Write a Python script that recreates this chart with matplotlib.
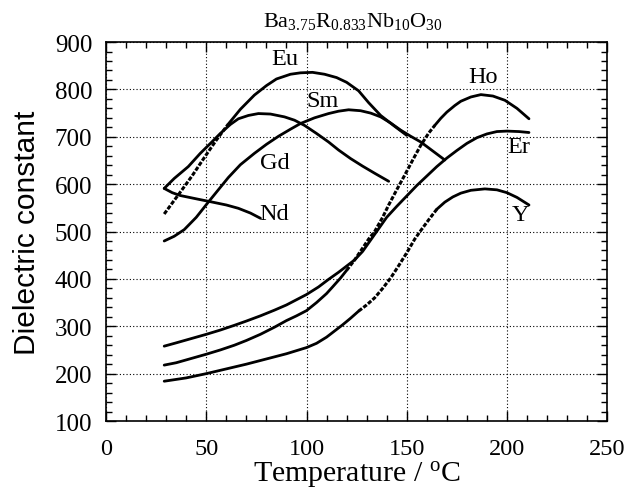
import matplotlib
matplotlib.use("Agg")
import matplotlib.pyplot as plt
from matplotlib.ticker import MultipleLocator

# ---- data ----
nd_t = [29, 33, 37, 45, 52, 60, 66, 72, 77]
nd_v = [591, 582, 576, 569, 563, 556, 549, 539, 528]

gd_t = [29, 34, 41, 47, 53, 57, 62, 66, 71, 76, 82, 89, 94, 99, 105, 111, 116, 122, 128, 134, 141]
gd_v = [591, 612, 637, 665, 690, 707, 726, 738, 745, 749, 748, 742, 735, 724, 707, 689, 672, 654, 638, 623, 606]

eu_t = [29, 33, 37, 43, 49, 55, 61, 67, 74, 80, 85, 92, 97, 103, 109, 115, 120, 126, 131, 137, 144, 150]
eu_v = [537, 560, 583, 618, 656, 693, 727, 758, 788, 808, 822, 832, 835, 836, 832, 825, 815, 797, 772, 745, 722, 703]

sm_t = [29, 34, 39, 45, 51, 56, 61, 67, 74, 80, 86, 92, 97, 104, 111, 116, 121, 127, 132, 137, 142, 147, 152, 157, 163, 169]
sm_v = [480, 490, 504, 530, 562, 588, 614, 641, 665, 684, 701, 716, 728, 740, 749, 754, 757, 755, 750, 742, 729, 714, 701, 689, 670, 651]

ho_t = [29, 35, 40, 45, 50, 57, 64, 70, 77, 84, 90, 95, 100, 105, 110, 113, 117, 120, 124, 128,
        131, 134, 138, 141, 145, 149, 153, 157, 161, 164, 167, 170, 174, 177, 182, 187, 193, 199, 205, 211]
ho_v = [218, 223, 229, 235, 241, 250, 260, 270, 283, 298, 312, 322, 333, 350, 369, 383, 402, 418, 440, 465,
        484, 500, 530, 556, 588, 619, 651, 682, 708, 724, 739, 752, 766, 775, 784, 789, 786, 777, 760, 738]

er_t = [29, 35, 40, 45, 50, 57, 64, 70, 77, 84, 90, 95, 100, 106, 111, 116, 120, 124, 128, 131,
        135, 140, 145, 150, 155, 160, 165, 170, 175, 180, 185, 190, 195, 200, 206, 211]
er_v = [258, 265, 271, 277, 283, 292, 302, 311, 322, 334, 345, 356, 367, 383, 399, 414, 427, 440, 458, 476,
        500, 530, 553, 575, 597, 617, 637, 655, 671, 686, 698, 706, 711, 712, 711, 709]

y_t = [29, 40, 50, 60, 70, 80, 90, 100, 105, 110, 114, 118, 122, 126, 130, 134, 138, 142, 146, 150,
       154, 157, 161, 165, 169, 173, 177, 182, 189, 195, 200, 205, 211]
y_v = [184, 191, 200, 210, 220, 231, 242, 255, 264, 277, 290, 303, 317, 332, 345, 360, 380, 402, 428, 455,
       484, 502, 525, 547, 562, 573, 581, 587, 590, 588, 582, 572, 556]

# (t, v, start and end of the stretch that looks dotted in the scan)
curves = [(nd_t, nd_v, None, None), (gd_t, gd_v, None, None),
          (eu_t, eu_v, 29, 61), (sm_t, sm_v, None, None),
          (ho_t, ho_v, 120, 164), (er_t, er_v, None, None),
          (y_t, y_v, 126, 165)]

names = ["Eu", "Sm", "Gd", "Nd", "Ho", "Er", "Y"]
name_x = [89, 108, 84, 84, 188, 206, 207]
name_y = [866, 777, 645, 538, 827, 680, 536]

plt.rcParams.update({
    "font.family": "Liberation Serif",
    "mathtext.fontset": "custom",
    "mathtext.rm": "Liberation Serif",
    "mathtext.it": "Liberation Serif:italic",
})

fig = plt.figure(figsize=(6.24, 4.89), dpi=100)
ax = fig.add_axes([0.170, 0.137, 0.803, 0.775])

for t, v, lo, hi in curves:
    if lo is None:
        ax.plot(t, v, color="black", lw=2.0, solid_capstyle="round")
        continue
    i0 = t.index(lo)
    i1 = t.index(hi)
    ax.plot(t[:i0 + 1], v[:i0 + 1], color="black", lw=2.0, solid_capstyle="round")
    ax.plot(t[i0:i1 + 1], v[i0:i1 + 1], color="black", lw=2.2,
            linestyle=(0, (1.4, 0.55)))
    ax.plot(t[i1:], v[i1:], color="black", lw=2.0, solid_capstyle="round")

for n, x, y in zip(names, name_x, name_y):
    ax.text(x, y, n, ha="center", va="center", fontsize=17.5)

ax.set_xlim(0, 250)
ax.set_ylim(100, 900)
ax.xaxis.set_major_locator(MultipleLocator(50))
ax.xaxis.set_minor_locator(MultipleLocator(10))
ax.yaxis.set_major_locator(MultipleLocator(100))
ax.yaxis.set_minor_locator(MultipleLocator(20))
ax.tick_params(which="both", direction="in", top=True, right=True, width=1.0)
ax.tick_params(which="major", length=7, labelsize=18)
ax.tick_params(axis="x", labelsize=17.5)
ax.tick_params(which="minor", length=4)
ax.tick_params(axis="x", pad=12)
ax.tick_params(axis="y", pad=10)
ax.grid(True, which="major", color="black", linestyle=(0, (1, 2)), lw=0.8)
for s in ax.spines.values():
    s.set_linewidth(1.2)

ax.set_xlabel("Temperature / $^{\\mathrm{o}}$C", fontsize=21.5, labelpad=0)
ax.set_ylabel("Dielectric constant", fontsize=21.5, family="Liberation Sans", labelpad=10)

fig.text(0.566, 0.957, "Ba$_{3.75}$R$_{0.833}$Nb$_{10}$O$_{30}$",
         ha="center", va="center", fontsize=16)

fig.savefig("out.png", dpi=100)
